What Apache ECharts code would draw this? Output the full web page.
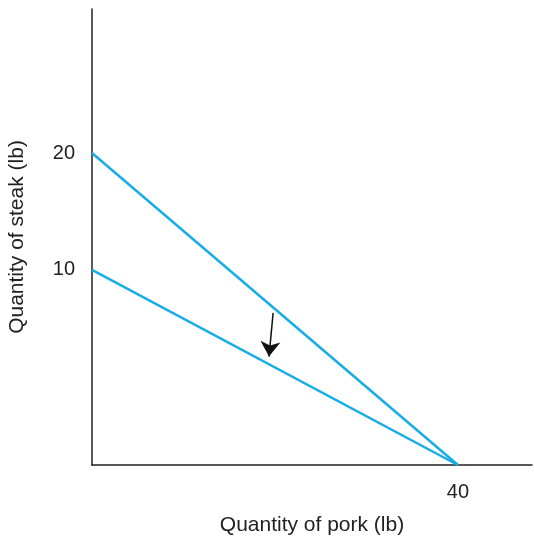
<!DOCTYPE html>
<html>
<head>
<meta charset="utf-8">
<script src="https://cdn.jsdelivr.net/npm/echarts@6/dist/echarts.min.js"></script>
<style>html,body{margin:0;padding:0;background:#fff}#c{width:534px;height:540px}</style>
</head>
<body>
<div id="c"></div>
<script>
// Budget lines: [pork, steak] endpoints
var originalLine = [[0, 20], [40, 0]];
var newLine = [[0, 10], [40, 0]];
var porkTicks = [40];
var steakTicksOriginal = [20];
var steakTicksNew = [10];
// arrow annotation (pork, steak on original scale)
var arrowFrom = [19.8, 9.75];
var arrowTo = [19.35, 6.95];

var chart = echarts.init(document.getElementById('c'));
var font = 'Liberation Sans, Arial, sans-serif';
var blue = '#17ade6';
var txt = '#222';
chart.setOption({
  animation: false,
  grid: {left: 92, right: 2, top: 9, bottom: 75, containLabel: false, outerBoundsMode: 'none'},
  xAxis: {
    type: 'value', min: 0, max: 48.1,
    name: 'Quantity of pork (lb)', nameLocation: 'middle', nameGap: 50,
    nameTextStyle: {fontFamily: font, fontSize: 21, color: txt},
    axisLine: {show: true, onZero: false, lineStyle: {color: '#222', width: 1.5}},
    axisTick: {show: false},
    splitLine: {show: false},
    axisLabel: {customValues: porkTicks, fontFamily: font, fontSize: 20, color: txt, margin: 17}
  },
  yAxis: [{
    type: 'value', min: 0, max: 29.23,
    name: 'Quantity of steak (lb)', nameLocation: 'middle', nameGap: 64,
    nameTextStyle: {fontFamily: font, fontSize: 21, color: txt},
    axisLine: {show: true, onZero: false, lineStyle: {color: '#222', width: 1.5}},
    axisTick: {show: false},
    splitLine: {show: false},
    axisLabel: {customValues: steakTicksOriginal, fontFamily: font, fontSize: 20, color: txt, margin: 17}
  }, {
    type: 'value', min: 0, max: 23.38, position: 'left',
    axisLine: {show: false},
    axisTick: {show: false},
    splitLine: {show: false},
    axisLabel: {customValues: steakTicksNew, fontFamily: font, fontSize: 20, color: txt, margin: 17}
  }],
  series: [{
    type: 'line', yAxisIndex: 0, data: originalLine, symbol: 'none',
    lineStyle: {color: blue, width: 2.5}
  }, {
    type: 'line', yAxisIndex: 1, data: newLine, symbol: 'none',
    lineStyle: {color: blue, width: 2.5}
  }, {
    type: 'lines', coordinateSystem: 'cartesian2d', xAxisIndex: 0, yAxisIndex: 0,
    symbol: ['none', 'arrow'], symbolSize: [7, 15],
    lineStyle: {color: '#111', width: 1.5, opacity: 1},
    itemStyle: {color: '#111'},
    data: [{coords: [arrowFrom, arrowTo]}]
  }]
});
</script>
</body>
</html>
